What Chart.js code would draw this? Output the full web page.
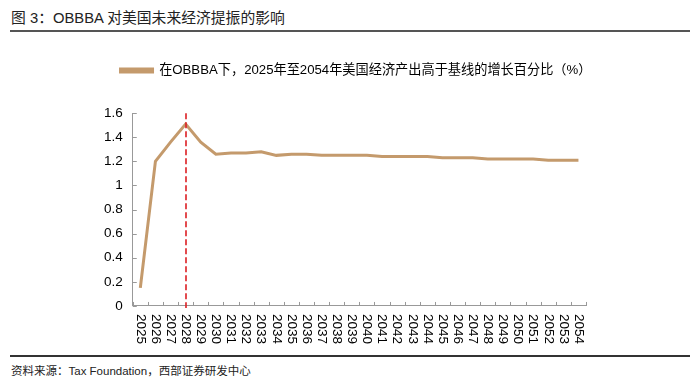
<!DOCTYPE html>
<html><head><meta charset="utf-8">
<script src="https://cdn.jsdelivr.net/npm/chart.js@4/dist/chart.umd.min.js"></script>
<style>
html,body{margin:0;padding:0;background:#fff;width:700px;height:390px;overflow:hidden;font-family:"Liberation Sans","Noto Sans CJK SC",sans-serif;}
#title{position:absolute;left:11px;top:6px;font-size:14.8px;color:#222;white-space:nowrap;}
#tl{position:absolute;left:10px;top:30px;width:680px;height:2px;background:#555;}
#fl{position:absolute;left:10px;top:355px;width:680px;height:2px;background:#333;}
#foot{position:absolute;left:11px;top:362px;font-size:11.5px;color:#222;white-space:nowrap;}
#wrap{position:absolute;left:0;top:45px;width:700px;height:305px;}
</style></head><body>
<div id="title">图 3：OBBBA 对美国未来经济提振的影响</div>
<div id="tl"></div>
<div id="wrap"><canvas id="c"></canvas></div>
<div id="fl"></div>
<div id="foot">资料来源：Tax Foundation，西部证券研发中心</div>
<script>
const years = ['2025','2026','2027','2028','2029','2030','2031','2032','2033','2034','2035','2036','2037','2038','2039','2040','2041','2042','2043','2044','2045','2046','2047','2048','2049','2050','2051','2052','2053','2054'];
const gdpAboveBaseline = [0.15,1.20,1.36,1.51,1.36,1.26,1.27,1.27,1.28,1.25,1.26,1.26,1.25,1.25,1.25,1.25,1.24,1.24,1.24,1.24,1.23,1.23,1.23,1.22,1.22,1.22,1.22,1.21,1.21,1.21];
const seriesName = '在OBBBA下，2025年至2054年美国经济产出高于基线的增长百分比（%）';
const markerYear = '2028';
const yTicks = [0,0.2,0.4,0.6,0.8,1,1.2,1.4,1.6];

const FONT = '"Liberation Sans","Noto Sans CJK SC",sans-serif';

const markerPlugin = {
  id:'marker',
  afterDatasetsDraw(chart){
    const xs = chart.scales.x, ca = chart.chartArea, ctx = chart.ctx;
    const x = Math.round(xs.getPixelForValue(years.indexOf(markerYear)));
    ctx.save();
    ctx.strokeStyle = '#DC1E24'; ctx.lineWidth = 1.6; ctx.setLineDash([6,3]);
    ctx.beginPath(); ctx.moveTo(x, ca.top); ctx.lineTo(x, ca.bottom + 2); ctx.stroke();
    ctx.restore();
  }
};
const innerTicksPlugin = {
  id:'innerTicks',
  afterDraw(chart){
    const xs = chart.scales.x, ys = chart.scales.y, ctx = chart.ctx, ca = chart.chartArea;
    ctx.save();
    ctx.strokeStyle = '#999'; ctx.lineWidth = 1;
    ctx.beginPath();
    yTicks.forEach(v=>{ const y = Math.round(ys.getPixelForValue(v))+0.5; ctx.moveTo(ca.left, y); ctx.lineTo(ca.left+4, y); });
    for(let i=0;i<=years.length;i++){
      const x = Math.round(xs.getPixelForValue(i-0.5))+0.5;
      ctx.moveTo(x, ca.bottom); ctx.lineTo(x, ca.bottom-4);
    }
    ctx.stroke();
    ctx.font = '13.5px ' + FONT; ctx.fillStyle = '#000';
    ctx.textAlign = 'left'; ctx.textBaseline = 'middle';
    years.forEach((yr,i)=>{
      const x = xs.getPixelForValue(i);
      ctx.save(); ctx.translate(x, ca.bottom + 8); ctx.rotate(Math.PI/2);
      ctx.fillText(yr, 0, 0); ctx.restore();
    });
    ctx.restore();
  }
};
const legendSpace = {
  id:'legendSpace',
  beforeInit(chart){
    const fit = chart.legend.fit;
    chart.legend.fit = function(){ fit.bind(chart.legend)(); this.height += 26; };
  },
  afterLayout(chart){
    chart.legend.left += 16; chart.legend.right += 16;
  }
};

new Chart(document.getElementById('c'), {
  type:'line',
  data:{labels:years, datasets:[{label:seriesName, data:gdpAboveBaseline, borderColor:'#C49A6C', backgroundColor:'#C49A6C', borderWidth:3, pointRadius:0, tension:0}]},
  options:{
    responsive:true, maintainAspectRatio:false, animation:false,
    layout:{padding:{left:94,right:114,top:9,bottom:4}},
    plugins:{
      legend:{display:true, labels:{boxWidth:32, boxHeight:3, color:'#000', font:{family:FONT,size:13.2}, padding:10}},
      tooltip:{enabled:false}
    },
    scales:{
      x:{offset:true, grid:{offset:true, drawOnChartArea:false, drawTicks:false}, border:{color:'#999'},
        ticks:{autoSkip:false, minRotation:90, maxRotation:90, color:'rgba(0,0,0,0)', font:{family:FONT,size:13.5}, padding:5}},
      y:{min:0, max:1.6, afterBuildTicks(s){ s.ticks = yTicks.map(v=>({value:v})); },
        grid:{drawOnChartArea:false, drawTicks:false}, border:{color:'#999'},
        ticks:{color:'#000', font:{family:FONT,size:13.5}, padding:10, callback:v=>String(+(+v).toFixed(1))}}
    }
  },
  plugins:[legendSpace, markerPlugin, innerTicksPlugin]
});
</script>
</body></html>
